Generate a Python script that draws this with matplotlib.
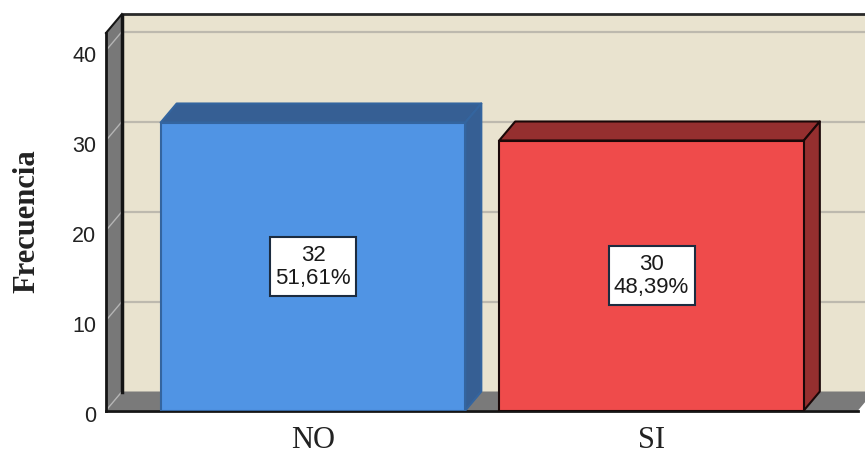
import matplotlib
matplotlib.use("Agg")
import matplotlib.pyplot as plt
from matplotlib.patches import Polygon, Rectangle
from matplotlib.transforms import Affine2D, ScaledTranslation

categories = ["NO", "SI"]
counts = [32, 30]
percents = ["51,61%", "48,39%"]
y_ticks = [0, 10, 20, 30, 40]

front_colors = ["#5094e4", "#ef4b4b"]
top_colors = ["#365f94", "#952f2f"]
side_colors = ["#365f94", "#952f2f"]
edge_colors = ["#34659f", "#1a0808"]

W, H = 865, 451
fig = plt.figure(figsize=(W / 100, H / 100), dpi=100)
# axes: x 106..865 px, y=0 at 410 px, y top at 14 px, 9 px per unit
ax = fig.add_axes([106 / W, 1 - 410.5 / H, (W - 106) / W, (410.5 - 14) / H])
ax.set_ylim(0, 396.5 / 9)
ax.set_xlim(-207 / 338.5, 1 + 213.5 / 338.5)

dx = 16 / 338.5   # depth of the 3d effect
dy = 19 / 9
bar_w = 0.9
xl, xr = ax.get_xlim()
wall_top = ax.get_ylim()[1]
floor_right = xr - 7 / 338.5

# back wall, floor and left side
ax.add_patch(Polygon([(xl + dx, dy), (xr + 1, dy), (xr + 1, wall_top), (xl + dx, wall_top)],
                     fc="#e9e3cf", ec="none", zorder=1, clip_on=False))
ax.add_patch(Polygon([(xl, 0), (floor_right, 0), (floor_right + dx, dy), (xl + dx, dy)],
                     fc="#7a7a7a", ec="none", zorder=1.5, clip_on=False))
ax.add_patch(Polygon([(xl, 0), (xl + dx, dy), (xl + dx, wall_top), (xl, wall_top - dy)],
                     fc="#787878", ec="none", zorder=1.5, clip_on=False))

for t in y_ticks[1:]:
    ax.plot([xl + dx, xr], [t + dy, t + dy], color="#bdb9ae", lw=1.6, zorder=2)
for t in y_ticks:
    ax.plot([xl, xl + dx], [t, t + dy], color="#b5b5b5", lw=1.0, zorder=2)

# frame lines of the box
ax.plot([xl, xl], [0, wall_top - dy], color="#151515", lw=2, zorder=3, clip_on=False)
ax.plot([xl, xl + dx], [wall_top - dy, wall_top], color="#151515", lw=1.5, zorder=3, clip_on=False)
ax.plot([xl + dx, xr], [wall_top, wall_top], color="#2a2a2a", lw=2, zorder=3, clip_on=False)
ax.plot([xl + dx, xl + dx], [dy, wall_top], color="#151515", lw=2.5, zorder=3)
ax.plot([xl, floor_right], [0, 0], color="#151515", lw=2, zorder=3, clip_on=False)

# bars
positions = list(range(len(categories)))
ax.bar(positions, counts, width=bar_w, color=front_colors, edgecolor=edge_colors,
       linewidth=1.5, zorder=5)
for p, c, top, side, edge in zip(positions, counts, top_colors, side_colors, edge_colors):
    l, r = p - bar_w / 2, p + bar_w / 2
    ax.add_patch(Polygon([(l, c), (r, c), (r + dx, c + dy), (l + dx, c + dy)],
                         fc=top, ec=edge, lw=1.5, zorder=4, joinstyle="round"))
    ax.add_patch(Polygon([(r, 0), (r + dx, dy), (r + dx, c + dy), (r, c)],
                         fc=side, ec=edge, lw=1.5, zorder=4, joinstyle="round"))

# value boxes, sized in pixels around the middle of each bar
for p, c, pct in zip(positions, counts, percents):
    cx, cy = ax.transData.transform((p, c / 2))
    ax.add_patch(Rectangle((-43, -29.5), 86, 59, transform=Affine2D().translate(cx, cy),
                           fc="white", ec="#1c2c40", lw=1.5, zorder=6))
    ax.annotate(str(c), (p, c / 2), xytext=(0, 8), textcoords="offset points",
                ha="center", va="center", family="Liberation Sans", fontsize=16,
                color="#1a1a1a", zorder=7)
    ax.annotate(pct, (p, c / 2), xytext=(0, -8.5), textcoords="offset points",
                ha="center", va="center", family="Liberation Sans", fontsize=16,
                color="#1a1a1a", zorder=7)

for s in ax.spines.values():
    s.set_visible(False)
ax.patch.set_visible(False)
ax.set_yticks(y_ticks)
ax.set_xticks(positions)
ax.set_xticklabels(categories, family="Liberation Serif", fontsize=22, color="#222222")
ax.tick_params(axis="x", length=0, pad=11)
ax.tick_params(axis="y", length=0, pad=7, labelsize=15.5, labelcolor="#222222")
shift = ScaledTranslation(0, -3 / 72 * 72 / 100, fig.dpi_scale_trans)
for lab in ax.get_yticklabels():
    lab.set_family("Liberation Sans")
    lab.set_transform(lab.get_transform() + shift)

fig.text(27 / W, 1 - 221 / H, "Frecuencia", rotation=90, ha="center", va="center",
         family="Liberation Serif", fontweight="bold", fontsize=22, color="#222222")

fig.savefig("out.png", dpi=100)
